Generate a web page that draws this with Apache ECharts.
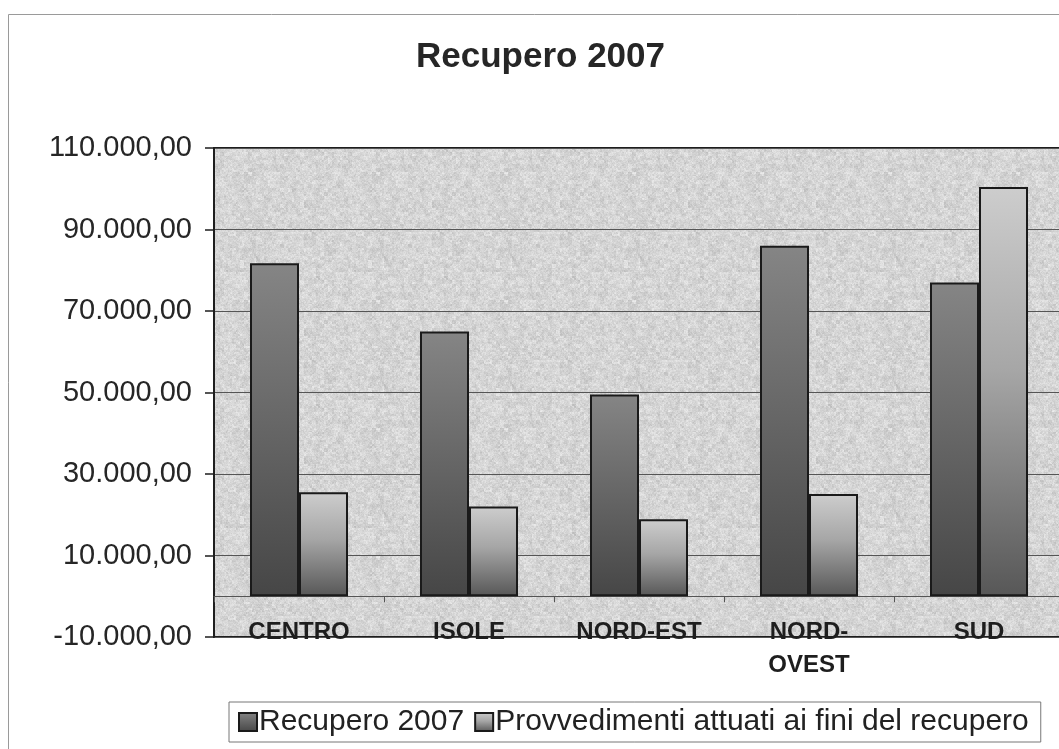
<!DOCTYPE html>
<html>
<head>
<meta charset="utf-8">
<script src="https://cdn.jsdelivr.net/npm/echarts@6/dist/echarts.min.js"></script>
<style>
  html, body { margin: 0; padding: 0; background: #ffffff; }
  #chart { width: 1059px; height: 749px; }
</style>
</head>
<body>
<div id="chart"></div>
<script>
// Regions and the two series shown for each
const categories = ['CENTRO', 'ISOLE', 'NORD-EST', 'NORD-\nOVEST', 'SUD'];
const recupero2007 = [81700, 65000, 49500, 86000, 77000];
const provvedimenti = [25500, 22000, 18900, 25100, 100400];
const seriesNames = ['Recupero 2007', 'Provvedimenti attuati ai fini del recupero'];

const FONT = '"Liberation Sans", Arial, sans-serif';

// Italian number format: 110.000,00
function fmtIt(v) {
  const neg = v < 0;
  const s = Math.abs(v).toFixed(0).replace(/\B(?=(\d{3})+(?!\d))/g, '.');
  return (neg ? '-' : '') + s + ',00';
}

// Granite-style fill for the plot area, built from a fixed hash so it is stable
function graniteTile(size) {
  const c = document.createElement('canvas');
  c.width = c.height = size;
  const ctx = c.getContext('2d');
  const img = ctx.createImageData(size, size);
  function hash(x, y) {
    let h = (x * 374761393 + y * 668265263) | 0;
    h = (h ^ (h >>> 13)) * 1274126177 | 0;
    h = h ^ (h >>> 16);
    return ((h >>> 0) % 1000) / 1000;
  }
  for (let y = 0; y < size; y++) {
    for (let x = 0; x < size; x++) {
      const n = (hash(x, y) + hash(x >> 1, y >> 1) + hash(x >> 2, y >> 2)) / 3;
      const v = Math.round(212 + (n - 0.5) * 50);
      const i = (y * size + x) * 4;
      img.data[i] = img.data[i + 1] = img.data[i + 2] = v;
      img.data[i + 3] = 255;
    }
  }
  ctx.putImageData(img, 0, 0);
  return c;
}

const grad1 = new echarts.graphic.LinearGradient(0, 0, 0, 1, [
  { offset: 0, color: '#858585' },
  { offset: 1, color: '#464646' }
]);
const grad2 = new echarts.graphic.LinearGradient(0, 0, 0, 1, [
  { offset: 0, color: '#cdcdcd' },
  { offset: 0.45, color: '#a6a6a6' },
  { offset: 1, color: '#575757' }
]);

const chart = echarts.init(document.getElementById('chart'), null, { renderer: 'canvas' });

chart.setOption({
  backgroundColor: '#ffffff',
  animation: false,
  graphic: [{
    type: 'rect',
    shape: { x: 8.5, y: 14.5, width: 1100, height: 800 },
    style: { fill: 'none', stroke: '#9a9a9a', lineWidth: 1 },
    silent: true
  }],
  title: {
    text: 'Recupero 2007',
    left: 416,
    top: 40,
    padding: 0,
    textStyle: { fontFamily: FONT, fontSize: 35, fontWeight: 'bold', color: '#262626' }
  },
  legend: {
    data: seriesNames,
    left: 229,
    top: 702,
    padding: [5, 12, 5, 9],
    itemWidth: 18,
    itemHeight: 18,
    itemGap: 10,
    icon: 'rect',
    borderColor: '#777',
    borderWidth: 1,
    textStyle: { fontFamily: FONT, fontSize: 30, color: '#222', padding: [0, 0, 0, -3] }
  },
  grid: {
    left: 214,
    top: 148,
    width: 850,
    height: 489,
    outerBoundsMode: 'none',
    containLabel: false,
    show: true,
    backgroundColor: { image: graniteTile(128), repeat: 'repeat' },
    borderColor: '#1e1e1e',
    borderWidth: 2
  },
  xAxis: {
    type: 'category',
    data: categories,
    axisLine: { onZero: true, lineStyle: { color: '#555', width: 1 } },
    axisTick: { show: true, length: 6, inside: false, alignWithLabel: false, lineStyle: { color: '#555' } },
    axisLabel: {
      margin: -21,
      fontFamily: FONT,
      fontSize: 24,
      fontWeight: 'bold',
      color: '#1e1e1e',
      lineHeight: 33,
      interval: 0
    },
    splitLine: { show: false }
  },
  yAxis: {
    type: 'value',
    min: -10000,
    max: 110000,
    interval: 20000,
    axisLine: { show: true, lineStyle: { color: '#1e1e1e', width: 2 } },
    axisTick: { show: true, length: 9, lineStyle: { color: '#1e1e1e', width: 1.5 } },
    axisLabel: {
      margin: 22,
      fontFamily: FONT,
      fontSize: 29,
      color: '#262626',
      formatter: fmtIt
    },
    splitLine: { show: true, lineStyle: { color: '#555', width: 1.2 } }
  },
  series: [
    {
      name: seriesNames[0],
      type: 'bar',
      data: recupero2007,
      barWidth: 49,
      barGap: '0%',
      itemStyle: { color: grad1, borderColor: '#1a1a1a', borderWidth: 2 }
    },
    {
      name: seriesNames[1],
      type: 'bar',
      data: provvedimenti,
      barWidth: 49,
      itemStyle: { color: grad2, borderColor: '#1a1a1a', borderWidth: 2 }
    }
  ]
});
</script>
</body>
</html>
